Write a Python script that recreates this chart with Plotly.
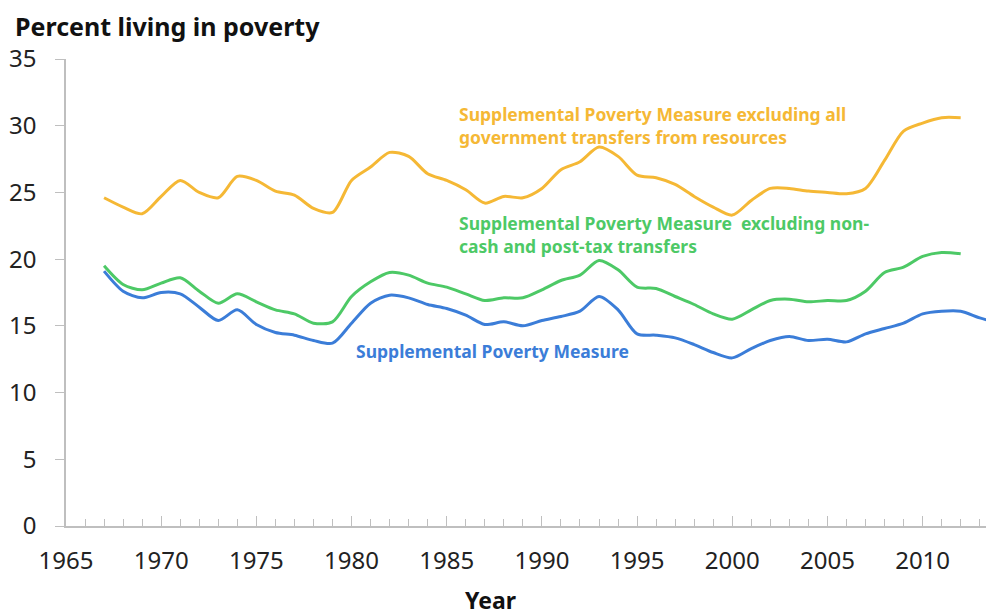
import plotly.graph_objects as go

years_a = list(range(1967, 2013))
years_b = list(range(1967, 2015))

spm_excl_all = [24.6, 23.9, 23.4, 24.7, 25.9, 25.0, 24.6, 26.2, 25.9, 25.1, 24.8, 23.8, 23.5,
                25.9, 26.9, 28.0, 27.7, 26.4, 25.9, 25.2, 24.2, 24.7, 24.6, 25.3, 26.7, 27.3,
                28.4, 27.7, 26.3, 26.1, 25.6, 24.7, 23.9, 23.3, 24.4, 25.3, 25.3, 25.1, 25.0,
                24.9, 25.3, 27.4, 29.6, 30.2, 30.6, 30.6]

spm_excl_noncash = [19.5, 18.1, 17.7, 18.2, 18.6, 17.6, 16.7, 17.4, 16.8, 16.2, 15.9, 15.2, 15.3,
                    17.2, 18.3, 19.0, 18.8, 18.2, 17.9, 17.4, 16.9, 17.1, 17.1, 17.7, 18.4, 18.8,
                    19.9, 19.2, 17.9, 17.8, 17.2, 16.6, 15.9, 15.5, 16.2, 16.9, 17.0, 16.8, 16.9,
                    16.9, 17.6, 19.0, 19.4, 20.2, 20.5, 20.4]

spm = [19.1, 17.6, 17.1, 17.5, 17.4, 16.4, 15.4, 16.2, 15.1, 14.5, 14.3, 13.9, 13.7,
       15.2, 16.7, 17.3, 17.1, 16.6, 16.3, 15.8, 15.1, 15.3, 15.0, 15.4, 15.7, 16.1,
       17.2, 16.2, 14.4, 14.3, 14.1, 13.6, 13.0, 12.6, 13.3, 13.9, 14.2, 13.9, 14.0,
       13.8, 14.4, 14.8, 15.2, 15.9, 16.1, 16.1, 15.6, 15.2]

x_ticks = [1965, 1970, 1975, 1980, 1985, 1990, 1995, 2000, 2005, 2010]
y_ticks = [0, 5, 10, 15, 20, 25, 30, 35]

ORANGE = "#F5B835"
GREEN = "#4DC966"
BLUE = "#3B7DD8"
FONT = "Noto Sans"

# page body has an 8px margin; figure is sized to the visible area
W, H = 986, 608
OFF = 8
PL, PR, PT, PB = 66 - OFF, 994 - OFF, 59 - OFF, 526 - OFF  # plot area in figure px

fig = go.Figure()
for xs, ys, col in [(years_a, spm_excl_all, ORANGE),
                    (years_a, spm_excl_noncash, GREEN),
                    (years_b, spm, BLUE)]:
    fig.add_trace(go.Scatter(x=xs, y=ys, mode="lines",
                             line=dict(color=col, width=3, shape="spline", smoothing=0.8),
                             showlegend=False, hoverinfo="skip"))

fig.update_layout(
    width=W, height=H,
    margin=dict(l=PL, r=W - PR, t=PT, b=H - PB, pad=0),
    paper_bgcolor="white", plot_bgcolor="white",
    font=dict(family=FONT, color="#222222"),
    title=dict(text="<b>Percent living in poverty</b>", x=(15 - OFF) / W, xanchor="left",
               y=1 - (27 - OFF) / H, yanchor="middle",
               font=dict(size=25, color="#111111", family=FONT)),
    xaxis=dict(range=[1965, 2013.75], tickvals=x_ticks, ticktext=[str(v) for v in x_ticks],
               ticks="inside", ticklen=10, tickcolor="#BFBFBF", tickwidth=1,
               minor=dict(dtick=1, tick0=1965, ticks="inside", ticklen=7, tickcolor="#BFBFBF"),
               showline=True, linecolor="#BFBFBF", linewidth=1.5, showgrid=False, zeroline=False,
               tickfont=dict(size=24, color="#222222"), ticklabelstandoff=12, automargin=False),
    yaxis=dict(range=[0, 35], tickvals=y_ticks, ticks="outside", ticklen=9, tickcolor="#BFBFBF",
               showline=True, linecolor="#BFBFBF", linewidth=1.5, showgrid=False, zeroline=False,
               tickfont=dict(size=24, color="#222222"), ticklabelstandoff=14, automargin=False),
)

ann = [
    ("Supplemental Poverty Measure excluding all<br>government transfers from resources",
     1985.55, 30.0, ORANGE),
    ("Supplemental Poverty Measure  excluding non-<br>cash and post-tax transfers",
     1985.55, 21.85, GREEN),
    ("Supplemental Poverty Measure", 1980.15, 13.12, BLUE),
]
for t, x, y, c in ann:
    fig.add_annotation(x=x, y=y, xref="x", yref="y", text="<b>" + t + "</b>", showarrow=False,
                       xanchor="left", yanchor="middle", align="left",
                       font=dict(size=17.5, color=c, family=FONT))

pw, ph = PR - PL, PB - PT
fig.add_annotation(x=(490 - OFF - PL) / pw, y=-(600 - OFF - PB) / ph, xref="paper", yref="paper",
                   text="<b>Year</b>", showarrow=False, xanchor="center", yanchor="middle",
                   font=dict(size=23, color="#111111", family=FONT))

fig.write_html("out.html")
